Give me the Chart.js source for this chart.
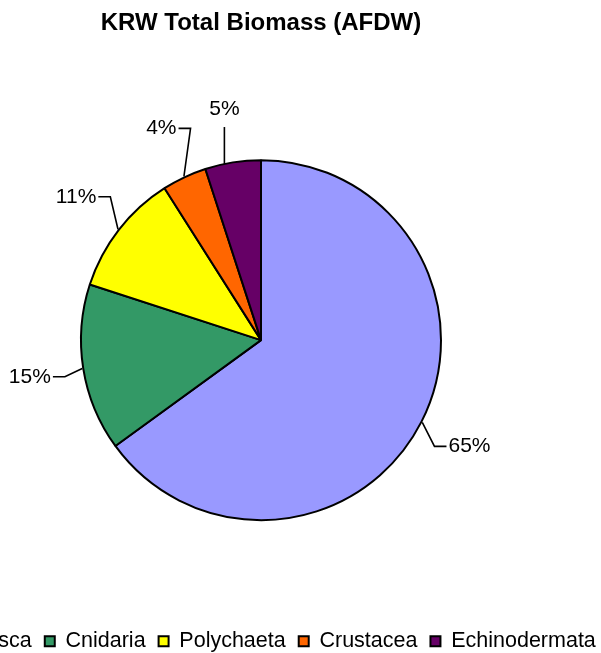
<!DOCTYPE html>
<html>
<head>
<meta charset="utf-8">
<title>KRW Total Biomass (AFDW)</title>
<script src="https://cdn.jsdelivr.net/npm/chart.js@4.4.0/dist/chart.umd.min.js"></script>
<style>
  html, body { margin: 0; padding: 0; background: #fff; overflow: hidden; }
  /* the legend row is wider than the page, so the canvas is centred on the pie and spills off the left */
  #wrap { position: absolute; left: -139px; top: 0; }
</style>
</head>
<body>
<div id="wrap"><canvas id="biomassChart" width="800" height="662"></canvas></div>
<script>
const groups = ['Mollusca', 'Cnidaria', 'Polychaeta', 'Crustacea', 'Echinodermata'];
const biomassPct = [65, 15, 11, 4, 5];
const sliceColors = ['#9999FF', '#339966', '#FFFF00', '#FF6600', '#660066'];
const chartTitle = 'KRW Total Biomass (AFDW)';

Chart.defaults.font.family = '"Liberation Sans", Arial, sans-serif';
Chart.defaults.color = '#000';

// percentage labels outside the pie, joined to their slice with a bent leader line
const leaderLabels = {
  id: 'leaderLabels',
  afterDatasetsDraw(chart) {
    const ctx = chart.ctx;
    const meta = chart.getDatasetMeta(0);
    const total = biomassPct.reduce((a, b) => a + b, 0);
    ctx.save();
    ctx.font = '21px "Liberation Sans", Arial, sans-serif';
    ctx.fillStyle = '#000';
    ctx.strokeStyle = '#000';
    ctx.lineWidth = 1.6;
    ctx.textAlign = 'center';
    ctx.textBaseline = 'middle';
    meta.data.forEach((arc, i) => {
      const {x, y, startAngle, endAngle, outerRadius} =
        arc.getProps(['x', 'y', 'startAngle', 'endAngle', 'outerRadius'], true);
      const mid = (startAngle + endAngle) / 2;
      const ux = Math.cos(mid), uy = Math.sin(mid);
      const text = Math.round(biomassPct[i] / total * 100) + '%';
      const lx = x + ux * (outerRadius + 54);
      const ly = y + uy * (outerRadius + 54);
      const hw = ctx.measureText(text).width / 2;
      const ax = x + ux * (outerRadius + 1);
      const ay = y + uy * (outerRadius + 1);

      ctx.beginPath();
      if (Math.abs(ux) < 0.25) {
        // label straight above (or below) the slice: plain vertical drop to the rim
        const dy = Math.sqrt(outerRadius * outerRadius - (lx - x) * (lx - x));
        const rimY = uy < 0 ? y - dy : y + dy;
        ctx.moveTo(lx, ly + (uy < 0 ? 18 : -18));
        ctx.lineTo(lx, rimY);
      } else {
        const side = ux > 0 ? 1 : -1;
        const edge = lx - side * (hw + 2);
        ctx.moveTo(edge, ly);
        ctx.lineTo(edge - side * 12, ly);
        ctx.lineTo(ax, ay);
      }
      ctx.stroke();
      ctx.fillText(text, lx, ly);
    });
    ctx.restore();
  }
};

new Chart(document.getElementById('biomassChart'), {
  type: 'pie',
  data: {
    labels: groups,
    datasets: [{
      data: biomassPct,
      backgroundColor: sliceColors,
      borderColor: '#000',
      borderWidth: 2
    }]
  },
  options: {
    responsive: false,
    animation: false,
    events: [],
    radius: 180,
    plugins: {
      title: {
        display: true,
        text: chartTitle,
        color: '#000',
        font: { size: 24, weight: 'bold' },
        padding: { top: 9, bottom: 25 }
      },
      legend: {
        position: 'bottom',
        labels: {
          boxWidth: 10,
          boxHeight: 10,
          padding: 13,
          color: '#000',
          font: { size: 21.5 }
        }
      },
      tooltip: { enabled: false }
    }
  },
  plugins: [leaderLabels]
});
</script>
</body>
</html>
